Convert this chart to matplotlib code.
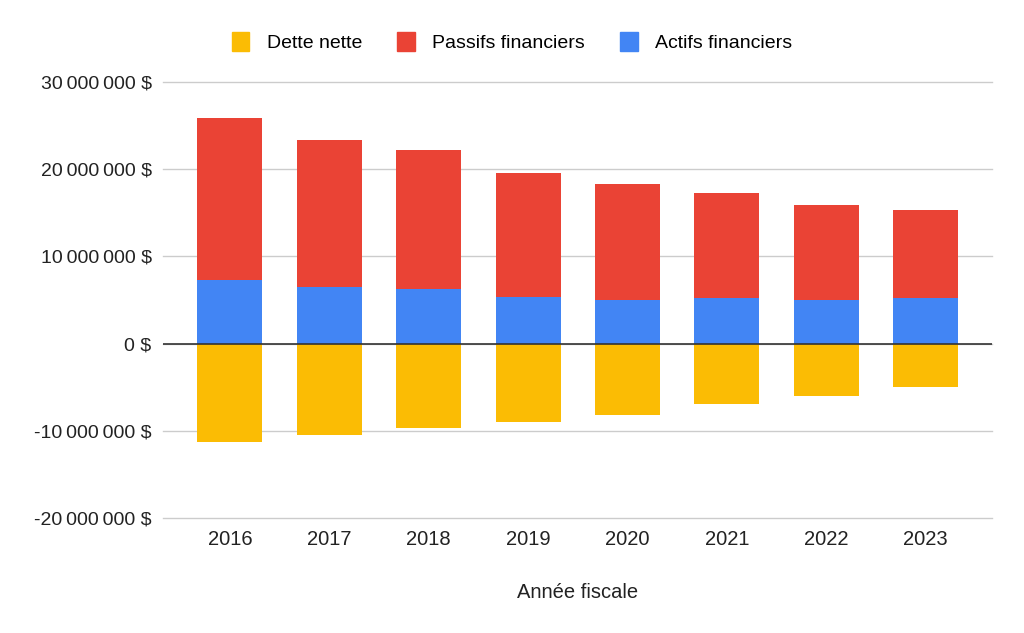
import matplotlib
matplotlib.use("Agg")
import matplotlib.pyplot as plt
from matplotlib.ticker import FuncFormatter, MultipleLocator
from matplotlib.patches import Patch

plt.rcParams['font.family'] = ['Liberation Sans', 'DejaVu Sans']

# donnees
annees = ["2016", "2017", "2018", "2019", "2020", "2021", "2022", "2023"]
actifs = [7300000, 6500000, 6300000, 5300000, 5000000, 5200000, 5000000, 5200000]
passifs = [18600000, 16900000, 15900000, 14300000, 13300000, 12100000, 10900000, 10100000]
dette = [-11300000, -10500000, -9700000, -8950000, -8200000, -6950000, -6000000, -4950000]

jaune = "#FBBC04"
rouge = "#EA4335"
bleu = "#4285F4"

fig = plt.figure(figsize=(10.24, 6.33), dpi=100)
ax = fig.add_axes([0.159, 0.1817, 0.81, 0.6888])

x = range(len(annees))
w = 0.655
ax.bar(x, actifs, w, color=bleu, zorder=3)
ax.bar(x, passifs, w, bottom=actifs, color=rouge, zorder=3)
ax.bar(x, dette, w, color=jaune, zorder=3)

ax.set_xlim(-0.675, 7.67)
ax.set_ylim(-20000000, 30000000)
ax.yaxis.set_major_locator(MultipleLocator(10000000))

def fmt(v, pos):
    return f"{int(v):,}".replace(",", "\u2009") + " $"

ax.yaxis.set_major_formatter(FuncFormatter(fmt))
ax.set_xticks(list(x))
ax.set_xticklabels(annees)

ax.grid(axis="y", color="#cccccc", linewidth=1, zorder=0)
for gl in ax.get_ygridlines():
    gl.set_clip_on(False)
ax.axhline(0, color="#333333", linewidth=1.2, zorder=4)
for s in ax.spines.values():
    s.set_visible(False)
ax.tick_params(axis="x", length=0, labelsize=14.5, colors="#222222", pad=9)
ax.tick_params(axis="y", length=0, labelsize=14, colors="#222222", pad=8)

ax.set_xlabel("Année fiscale", fontsize=14.5, color="#222222", labelpad=24)

handles = [Patch(color=jaune, label="Dette nette"),
           Patch(color=rouge, label="Passifs financiers"),
           Patch(color=bleu, label="Actifs financiers")]
fig.legend(handles=handles, loc="center", bbox_to_anchor=(0.5, 0.934), ncol=3,
           frameon=False, fontsize=14, handlelength=0.9, handleheight=1.2,
           handletextpad=0.9, columnspacing=1.8)

fig.savefig("out.png", dpi=100)
